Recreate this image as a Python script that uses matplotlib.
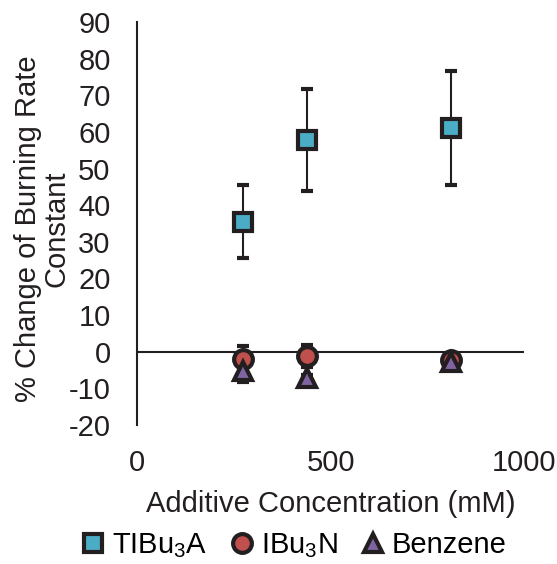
import matplotlib
matplotlib.use("Agg")
import matplotlib.pyplot as plt

plt.rcParams["font.family"] = ["Liberation Sans", "DejaVu Sans"]
plt.rcParams["mathtext.fontset"] = "custom"
plt.rcParams["mathtext.rm"] = "Liberation Sans"
plt.rcParams["axes.unicode_minus"] = False

# additive concentration (mM)
conc = [275, 440, 810]

# % change of burning rate constant, with error
tiba = [35.5, 57.8, 61.0]
tiba_err = [10.0, 14.0, 15.5]
ibun = [-1.9, -1.1, -2.2]
ibun_err = [3.5, 3.0, 1.0]
benz = [-5.4, -7.3, -2.7]
benz_err = [3.0, 1.0, 1.0]

labels = ["TIBu$_\\mathregular{3}$A", "IBu$_\\mathregular{3}$N", "Benzene"]
colors = ["#4BACC6", "#C0504D", "#8064A2"]
markers = ["s", "o", "^"]
edge = "#231F20"

fig = plt.figure(figsize=(5.57, 5.64), dpi=100)
ax = fig.add_axes([0.246, 0.2465, 0.695, 0.7145])

series = [(tiba, tiba_err), (ibun, ibun_err), (benz, benz_err)]
for (vals, errs), lab, col, mk in zip(series, labels, colors, markers):
    ax.errorbar(conc, vals, yerr=errs, fmt=mk, color=edge, ecolor=edge,
                elinewidth=1.5, capsize=4.5, capthick=1.5,
                markersize=13.5, markerfacecolor=col, markeredgecolor=edge,
                markeredgewidth=3, label=lab, zorder=3)

ax.axhline(0, color="#231F20", lw=1.5, zorder=1)
ax.set_xlim(0, 1000)
ax.set_ylim(-20, 90)
ax.set_xticks([0, 500, 1000])
ax.set_yticks(range(-20, 91, 10))
ax.tick_params(length=0, labelsize=21, colors="#231F20")
ax.tick_params(axis="x", pad=17)
ax.tick_params(axis="y", pad=19)
for s in ["top", "right", "bottom"]:
    ax.spines[s].set_visible(False)
ax.spines["left"].set_color("#231F20")
ax.spines["left"].set_linewidth(1.5)

ax.set_xlabel("Additive Concentration (mM)", fontsize=21, color="#231F20", labelpad=10)
fig.text(0.076, 0.594, "% Change of Burning Rate\nConstant", rotation=90,
         ha="center", va="center", fontsize=21, color="#231F20", linespacing=1.05)

handles, labs = ax.get_legend_handles_labels()
handles = [h[0] for h in handles]
fig.legend(handles, labs, loc="center", bbox_to_anchor=(0.525, 0.033), ncol=3,
           frameon=False, fontsize=21, handletextpad=0.15, columnspacing=0.7,
           handlelength=1.0, borderaxespad=0)

fig.savefig("out.png", dpi=100)
